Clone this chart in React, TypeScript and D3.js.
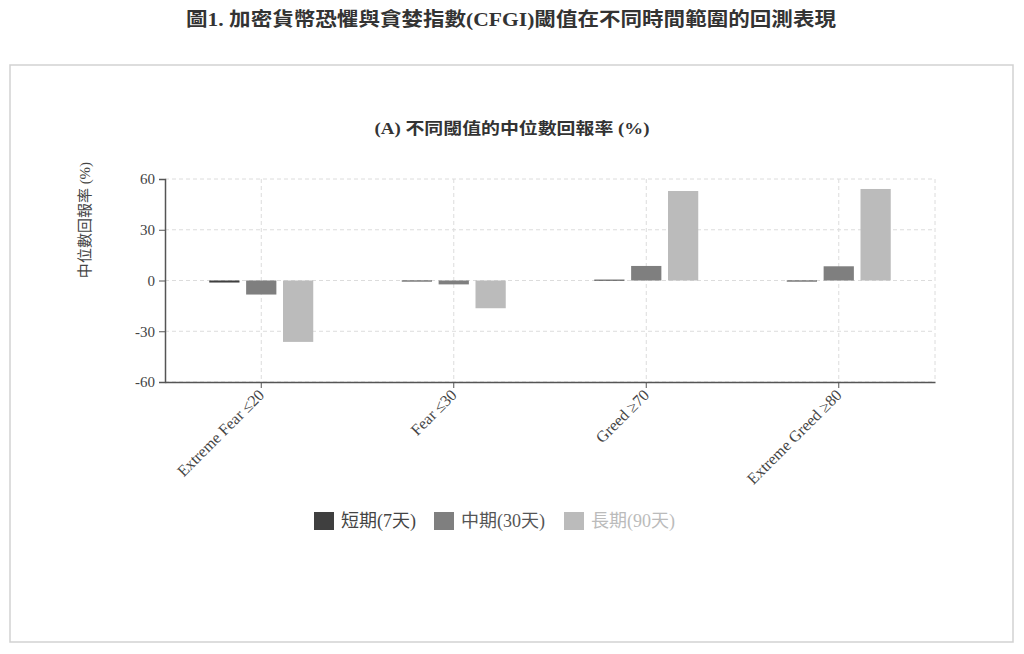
import * as d3 from 'd3';
import { useEffect, useRef } from 'react';

const width = 1024;
const height = 654;
const marginTop = 179;
const marginRight = 89;
const marginBottom = 272;
const marginLeft = 165;

const categories = ['Extreme Fear ≤20', 'Fear ≤30', 'Greed ≥70', 'Extreme Greed ≥80'];
const seriesNames = ['短期(7天)', '中期(30天)', '長期(90天)'];
const shortTerm = [-1.2, -0.2, 0.5, -0.6];
const midTerm = [-8.3, -2.3, 8.6, 8.4];
const longTerm = [-36.3, -16.4, 52.9, 54.1];
const yTicks = [-60, -30, 0, 30, 60];
const colors = ['#3f3f3f', '#7f7f7f', '#bbbbbb'];
const legendTextColors = ['#444', '#555', '#bbb'];

const font = '"Liberation Serif", "Noto Sans CJK TC", serif';

const App = () => {
  const ref = useRef<HTMLDivElement>(null);

  useEffect(() => {
    if (!ref.current) return;

    const series = [shortTerm, midTerm, longTerm];

    const x = d3
      .scaleBand<string>()
      .domain(categories)
      .range([marginLeft, width - marginRight]);

    const xInner = d3
      .scaleBand<number>()
      .domain([0, 1, 2])
      .range([0, x.bandwidth()])
      .paddingInner(0.18)
      .paddingOuter(1.2);

    const y = d3
      .scaleLinear()
      .domain([-60, 60])
      .range([height - marginBottom, marginTop]);

    const svg = d3
      .create('svg')
      .attr('width', width)
      .attr('height', height)
      .style('position', 'absolute')
      .style('left', 0)
      .style('top', 0)
      .style('font-family', font);

    svg.append('rect').attr('width', width).attr('height', height).attr('fill', '#fff');

    // 外枠
    svg
      .append('rect')
      .attr('x', 10)
      .attr('y', 65)
      .attr('width', 1003)
      .attr('height', 577)
      .attr('fill', '#fff')
      .attr('stroke', '#d2d2d2')
      .attr('stroke-width', 1.5);

    // タイトル
    svg
      .append('text')
      .attr('x', 511)
      .attr('y', 26)
      .attr('text-anchor', 'middle')
      .attr('font-size', 19)
      .attr('font-weight', 'bold')
      .attr('fill', '#333')
      .attr('textLength', 650)
      .attr('lengthAdjust', 'spacingAndGlyphs')
      .text('圖1. 加密貨幣恐懼與貪婪指數(CFGI)閾值在不同時間範圍的回測表現');

    svg
      .append('text')
      .attr('x', 512)
      .attr('y', 134)
      .attr('text-anchor', 'middle')
      .attr('font-size', 16)
      .attr('font-weight', 'bold')
      .attr('fill', '#333')
      .attr('textLength', 275)
      .attr('lengthAdjust', 'spacingAndGlyphs')
      .text('(A) 不同閾值的中位數回報率 (%)');

    // グリッド線
    const grid = svg.append('g').attr('stroke', '#dcdcdc').attr('stroke-dasharray', '4 3');
    grid
      .selectAll('line.h')
      .data(yTicks)
      .join('line')
      .attr('class', 'h')
      .attr('x1', marginLeft)
      .attr('x2', width - marginRight)
      .attr('y1', (d) => y(d))
      .attr('y2', (d) => y(d));
    grid
      .selectAll('line.v')
      .data(categories)
      .join('line')
      .attr('class', 'v')
      .attr('x1', (d) => x(d)! + x.bandwidth() / 2)
      .attr('x2', (d) => x(d)! + x.bandwidth() / 2)
      .attr('y1', marginTop)
      .attr('y2', height - marginBottom);
    grid
      .append('line')
      .attr('x1', width - marginRight)
      .attr('x2', width - marginRight)
      .attr('y1', marginTop)
      .attr('y2', height - marginBottom);

    // 棒
    svg
      .append('g')
      .selectAll('g')
      .data(categories)
      .join('g')
      .attr('transform', (d) => `translate(${x(d)},0)`)
      .selectAll('rect')
      .data((_, i) => series.map((s, k) => ({ k, v: s[i] })))
      .join('rect')
      .attr('x', (d) => xInner(d.k)!)
      .attr('width', xInner.bandwidth())
      .attr('y', (d) => y(Math.max(0, d.v)))
      .attr('height', (d) => Math.max(1, Math.abs(y(d.v) - y(0))))
      .attr('fill', (d) => colors[d.k]);

    // 軸
    const yAxis = svg
      .append('g')
      .attr('transform', `translate(${marginLeft},0)`)
      .call(
        d3
          .axisLeft(y)
          .tickValues(yTicks)
          .tickFormat((d) => String(d))
          .tickSize(6)
          .tickPadding(4)
      );
    yAxis.select('.domain').attr('stroke', '#555').attr('stroke-width', 1.5);
    yAxis.selectAll('line').attr('stroke', '#555');
    yAxis
      .selectAll('text')
      .attr('font-size', 15)
      .attr('font-family', font)
      .attr('fill', '#444');

    const xAxis = svg
      .append('g')
      .attr('transform', `translate(0,${height - marginBottom})`)
      .call(d3.axisBottom(x).tickSize(6).tickSizeOuter(0));
    xAxis.select('.domain').attr('stroke', '#555').attr('stroke-width', 1.5);
    xAxis.selectAll('line').attr('stroke', '#555');
    xAxis
      .selectAll('text')
      .attr('font-size', 16)
      .attr('font-family', font)
      .attr('fill', '#444')
      .attr('text-anchor', 'end')
      .attr('dy', null)
      .attr('y', 0)
      .attr('transform', 'translate(4,14) rotate(-45)');

    // y軸ラベル
    svg
      .append('text')
      .attr('transform', 'translate(90,220) rotate(-90)')
      .attr('text-anchor', 'middle')
      .attr('font-size', 15)
      .attr('fill', '#444')
      .text('中位數回報率 (%)');

    // 凡例
    const legendX = [314, 434, 564];
    const legend = svg
      .append('g')
      .selectAll('g')
      .data(seriesNames)
      .join('g')
      .attr('transform', (_, i) => `translate(${legendX[i]},512)`);
    legend
      .append('rect')
      .attr('width', 20)
      .attr('height', 18)
      .attr('fill', (_, i) => colors[i]);
    legend
      .append('text')
      .attr('x', 27)
      .attr('y', 15)
      .attr('font-size', 18)
      .attr('fill', (_, i) => legendTextColors[i])
      .text((d) => d);

    ref.current.innerHTML = '';
    ref.current.appendChild(svg.node()!);
  }, [ref]);

  return <div ref={ref} />;
};

export default App;
